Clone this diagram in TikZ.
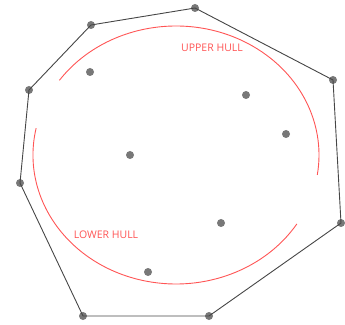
\documentclass[tikz,border=0pt]{standalone}
\usepackage{fontspec}
\newfontfamily\labelfont{Open Sans}
\definecolor{hullred}{RGB}{255,85,85}
\definecolor{dotgray}{RGB}{120,120,120}
\definecolor{edgegray}{RGB}{70,70,70}
\begin{document}
\begin{tikzpicture}[x=1pt,y=1pt,
  pt/.style={circle,fill=dotgray,inner sep=0pt,minimum size=8pt},
  hulledge/.style={draw=edgegray,line width=0.9pt},
  arcline/.style={draw=hullred,line width=0.9pt},
  lbl/.style={text=hullred,font=\labelfont\fontsize{10.5}{12}\selectfont,inner sep=0pt}]
\useasboundingbox (0,0) rectangle (345,324);
% hull points
\node[pt] (p1) at (91,299) {};
\node[pt] (p2) at (195,316) {};
\node[pt] (p3) at (333,244) {};
\node[pt] (p4) at (341,101) {};
\node[pt] (p5) at (209,8) {};
\node[pt] (p6) at (83,8) {};
\node[pt] (p7) at (20,141) {};
\node[pt] (p8) at (29,234) {};
% interior points
\node[pt] (q1) at (90,252) {};
\node[pt] (q2) at (246,229) {};
\node[pt] (q3) at (286,190) {};
\node[pt] (q4) at (130,169) {};
\node[pt] (q5) at (221,101) {};
\node[pt] (q6) at (148,52) {};
% hull
\draw[hulledge] (p1.center) -- (p2.center) -- (p3.center) -- (p4.center) -- (p5.center) -- (p6.center) -- (p7.center) -- (p8.center) -- (p1.center);
% arcs
\coordinate (c) at (176,169);
\draw[arcline] ([shift={(144.6:143 and 129)}]c) arc[start angle=144.6, end angle=-8.9, x radius=143, y radius=129];
\draw[arcline] ([shift={(168:143 and 129)}]c) arc[start angle=168, end angle=327.7, x radius=143, y radius=129];
% labels
\node[lbl] (up) at (212,276) {UPPER HULL};
\node[lbl] (lo) at (106,89) {LOWER HULL};
\end{tikzpicture}
\end{document}
